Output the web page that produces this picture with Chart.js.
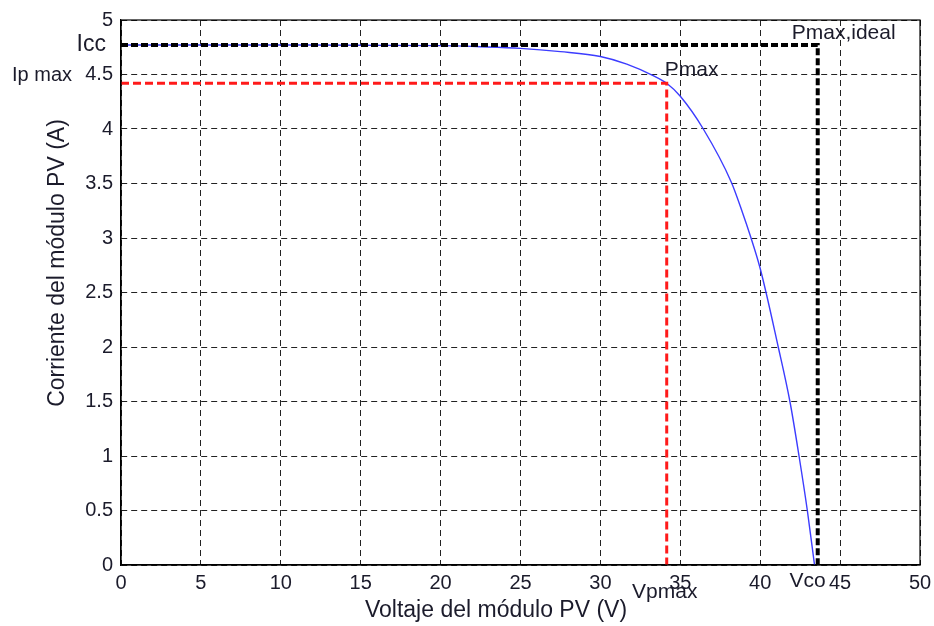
<!DOCTYPE html>
<html>
<head>
<meta charset="utf-8">
<script src="https://cdn.jsdelivr.net/npm/chart.js@4.4.1/dist/chart.umd.min.js"></script>
<style>
  html, body { margin:0; padding:0; background:#fff; }
  #wrap { width:934px; height:626px; }
</style>
</head>
<body>
<div id="wrap"><canvas id="pv" width="934" height="626"></canvas></div>
<script>
const voltaje   = [0, 10, 20, 22.5, 25, 27.5, 30, 31.65, 33.3, 34.15, 35, 36.44, 38.2, 38.9, 39.36, 40.0, 41.13, 41.86, 42.43, 42.95, 43.4];
const corriente = [4.77, 4.77, 4.765, 4.755, 4.74, 4.71, 4.665, 4.595, 4.49, 4.42, 4.30, 4.00, 3.51, 3.23, 3.03, 2.72, 2.00, 1.50, 1.00, 0.50, 0.00];

const ICC = 4.77, IPMAX = 4.42, VPMAX = 34.15, VCO = 43.6;
const xTicks = [0, 5, 10, 15, 20, 25, 30, 35, 40, 45, 50];
const yTicks = [0, 0.5, 1, 1.5, 2, 2.5, 3, 3.5, 4, 4.5, 5];

const INK = "#1b1b2b";
const FONT = "Liberation Sans, Arial, sans-serif";

const curva = voltaje.map((v, i) => ({ x: v, y: corriente[i] }));
const rectIdeal = [{ x: 0, y: ICC }, { x: VCO, y: ICC }, { x: VCO, y: 0 }];
const rectMax   = [{ x: 0, y: IPMAX }, { x: VPMAX, y: IPMAX }, { x: VPMAX, y: 0 }];

// ---- marco, titulos de ejes y etiquetas ------------------------------------
const labelsPlugin = {
  id: "pvLabels",
  afterDraw(chart){
    const { ctx, chartArea: a, scales: { x, y } } = chart;
    ctx.save();
    ctx.strokeStyle = "#000"; ctx.lineWidth = 1.2; ctx.setLineDash([]);
    ctx.strokeRect(a.left, a.top, a.right - a.left, a.bottom - a.top);

    ctx.fillStyle = INK;
    ctx.font = "23px " + FONT;
    ctx.textAlign = "center"; ctx.textBaseline = "middle";
    ctx.fillText("Voltaje del módulo PV (V)", 496, 611);
    ctx.save();
    ctx.translate(58, 263);
    ctx.rotate(-Math.PI / 2);
    ctx.fillText("Corriente del módulo PV (A)", 0, 0);
    ctx.restore();

    ctx.font = "23px " + FONT;
    ctx.textAlign = "right";
    ctx.fillText("Icc", 106, y.getPixelForValue(ICC));
    ctx.font = "20px " + FONT;
    ctx.textAlign = "left";
    ctx.fillText("Ip max", 12, y.getPixelForValue(IPMAX) - 8);
    ctx.font = "21px " + FONT;
    ctx.fillText("Pmax", x.getPixelForValue(VPMAX) - 2, y.getPixelForValue(IPMAX) - 13);
    ctx.fillText("Pmax,ideal", x.getPixelForValue(VCO) - 26, y.getPixelForValue(ICC) - 12);
    ctx.textAlign = "center";
    ctx.fillText("Vpmax", x.getPixelForValue(VPMAX) - 2, 592);
    ctx.textAlign = "right";
    ctx.fillText("Vco", x.getPixelForValue(VCO) + 8, 581);
    ctx.restore();
  }
};

new Chart(document.getElementById("pv"), {
  type: "scatter",
  data: {
    datasets: [
      { data: rectIdeal, showLine: true, borderColor: "#000", borderWidth: 4, borderDash: [7, 3], pointRadius: 0, fill: false },
      { data: rectMax, showLine: true, borderColor: "#ff1a1a", borderWidth: 3, borderDash: [8, 4], pointRadius: 0, fill: false },
      { data: curva, showLine: true, borderColor: "#3c3cff", borderWidth: 1.4, pointRadius: 0, fill: false, cubicInterpolationMode: "monotone" }
    ]
  },
  options: {
    responsive: false,
    animation: false,
    layout: { padding: { top: 20, right: 14, left: 0, bottom: 0 } },
    plugins: { legend: { display: false }, tooltip: { enabled: false } },
    scales: {
      x: {
        type: "linear", min: 0, max: 50,
        afterBuildTicks: s => { s.ticks = xTicks.map(v => ({ value: v })); },
        afterFit: s => { s.height = 61; s.paddingRight = 0; s.paddingLeft = 0; },
        grid: { color: "#222", lineWidth: 1, drawTicks: false },
        border: { display: true, color: "#000", width: 1.2, dash: [6, 4] },
        ticks: { color: INK, font: { family: FONT, size: 20 }, padding: 6, maxRotation: 0, callback: v => String(v) }
      },
      y: {
        type: "linear", min: 0, max: 5,
        afterBuildTicks: s => { s.ticks = yTicks.map(v => ({ value: v })); },
        afterFit: s => { s.width = 121; s.paddingTop = 0; s.paddingBottom = 0; },
        grid: { color: "#222", lineWidth: 1, drawTicks: false },
        border: { display: true, color: "#000", width: 1.2, dash: [6, 4] },
        ticks: { color: INK, font: { family: FONT, size: 20 }, padding: 8, callback: v => String(v) }
      }
    }
  },
  plugins: [labelsPlugin]
});
</script>
</body>
</html>
